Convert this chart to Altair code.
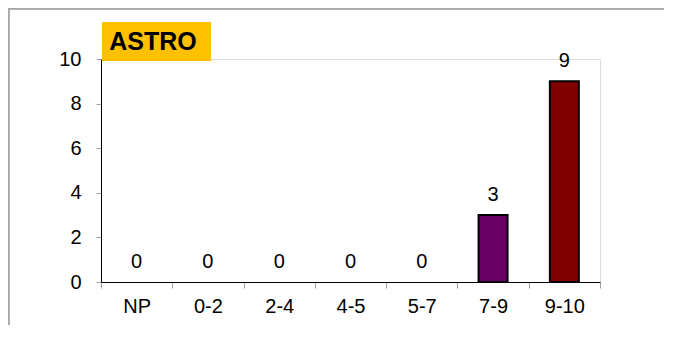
import altair as alt
import pandas as pd

categories = ["NP", "0-2", "2-4", "4-5", "5-7", "7-9", "9-10"]
values = [0, 0, 0, 0, 0, 3, 9]
bar_colors = ["#660066", "#660066", "#660066", "#660066", "#660066", "#660066", "#800000"]
title_text = "ASTRO"
y_ticks = [0, 2, 4, 6, 8, 10]

df = pd.DataFrame({"cat": categories, "val": values, "color": bar_colors})

FONT = "Liberation Sans"
W, H = 499, 223

x_enc = alt.X("cat:N", sort=categories,
              scale=alt.Scale(paddingInner=0, paddingOuter=0),
              axis=alt.Axis(title=None, labelAngle=0, labelFont=FONT, labelFontSize=20,
                            labelColor="black", domainColor="black", domainWidth=1,
                            tickColor="#A0A0A0", tickSize=6, tickBand="extent",
                            labelPadding=8, grid=False))
y_enc = alt.Y("val:Q", scale=alt.Scale(domain=[0, 10], nice=False),
              axis=alt.Axis(title=None, values=y_ticks, labelFont=FONT, labelFontSize=20,
                            labelColor="black", domainColor="black", domainWidth=1,
                            tickColor="#A0A0A0", tickSize=5, labelPadding=15, grid=False))

base = alt.Chart(df)

bars = base.transform_filter("datum.val > 0").mark_bar(
    size=29, stroke="black", strokeWidth=2
).encode(x=x_enc, y=y_enc, color=alt.Color("color:N", scale=None))

labels = base.mark_text(font=FONT, fontSize=20, color="black",
                        baseline="alphabetic", dy=-14).encode(
    x=alt.X("cat:N", sort=categories), y="val:Q", text="val:Q")

# page border (top and left lines)
border_top = alt.Chart(df).mark_rule(color="#A6A6A6", strokeWidth=1.5, clip=False).encode(
    x=alt.value(-93), x2=alt.value(563), y=alt.value(-50.5))
border_left = alt.Chart(df).mark_rule(color="#A6A6A6", strokeWidth=1.5, clip=False).encode(
    x=alt.value(-92.5), y=alt.value(-50.5), y2=alt.value(266))

title_box = alt.Chart(df).mark_rect(color="#FFC000", clip=False).encode(
    x=alt.value(1), x2=alt.value(110), y=alt.value(-37), y2=alt.value(2))
title_lbl = alt.Chart(pd.DataFrame({"t": [title_text]})).mark_text(
    font=FONT, fontSize=25, fontWeight="bold", color="black",
    align="center", baseline="alphabetic", clip=False).encode(
    x=alt.value(52), y=alt.value(-9), text="t:N")

chart = alt.layer(border_top, border_left, bars, labels, title_box, title_lbl).properties(
    width=W, height=H,
    autosize=alt.AutoSizeParams(type="none"),
    padding={"left": 93, "top": 51, "right": 64, "bottom": 44},
).configure_view(stroke=None).configure(background="white")

chart.save("out.html", embed_options={"renderer": "svg", "actions": False})
